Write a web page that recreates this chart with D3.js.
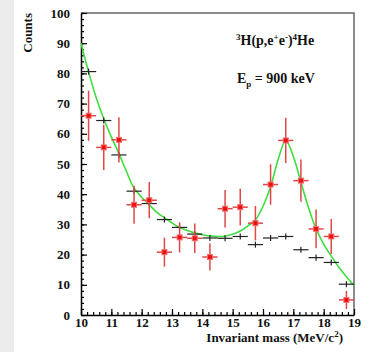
<!DOCTYPE html>
<html>
<head>
<meta charset="utf-8">
<script src="https://cdn.jsdelivr.net/npm/d3@7"></script>
<style>
  body { margin: 0; background: #fff; }
  svg text { font-family: "Liberation Serif", "Times New Roman", serif; font-weight: bold; }
</style>
</head>
<body>
<div id="chart"></div>
<script>
// bin centres (MeV/c^2)
const binCenters = [10.25, 10.75, 11.25, 11.75, 12.25, 12.75, 13.25, 13.75, 14.25,
                    14.75, 15.25, 15.75, 16.25, 16.75, 17.25, 17.75, 18.25, 18.75];
// measured counts (red) and their errors
const dataCounts = [66, 55.5, 58, 36.5, 38, 20.8, 25.7, 25.4, 19.2,
                    35.2, 35.7, 30.4, 43.2, 57.8, 44.5, 28.5, 26, 5];
const dataErrors = [8.3, 7.5, 7.5, 6.3, 6, 4.8, 5, 4.9, 4.5,
                    6.2, 6.1, 5.7, 6.7, 7.5, 7, 6.4, 5.8, 3];
// simulated background (black)
const bgCounts = [80.6, 64.4, 53, 41, 36.9, 31.6, 29, 26.8, 25.5,
                  25.4, 26, 23.3, 25.5, 26, 21.6, 19, 17.4, 10.2];
const bgErrors = [1, 1, 1, 1, 1, 1, 1, 1, 1, 1, 1, 1, 1, 1, 1, 1, 1, 1];
// fit curve
const fitX = [10, 10.25, 10.5, 10.75, 11, 11.25, 11.5, 11.75, 12, 12.25, 12.5, 12.75, 13,
              13.25, 13.5, 13.75, 14, 14.25, 14.5, 14.75, 15, 15.25, 15.5, 15.75, 16,
              16.25, 16.5, 16.75, 17, 17.25, 17.5, 17.75, 18, 18.25, 18.5, 18.75, 19];
const fitY = [90, 80.5, 72, 65, 59, 53.5, 47.5, 42, 39, 36.5, 34, 32.2, 30.5,
              29, 28, 27.2, 26.6, 26.2, 26, 26.1, 26.7, 27.8, 29.5, 31.5, 36,
              42.5, 51.5, 57.8, 52.5, 44, 35.5, 28.5, 23.5, 19.5, 15.8, 12.7, 9.8];
const xTicks = [10, 11, 12, 13, 14, 15, 16, 17, 18, 19];
const yTicks = [0, 10, 20, 30, 40, 50, 60, 70, 80, 90, 100];
const halfBin = 0.25;

const W = 377, H = 352;
const margin = { top: 13, right: 23, bottom: 37, left: 81 };

const svg = d3.select('#chart').append('svg')
  .attr('width', W).attr('height', H);

// grey strip on the left edge of the picture
svg.append('rect').attr('x', 0).attr('y', 0).attr('width', 14).attr('height', H).attr('fill', '#ececec');

const x = d3.scaleLinear().domain([10, 19]).range([margin.left, W - margin.right]);
const y = d3.scaleLinear().domain([0, 100]).range([H - margin.bottom, margin.top]);

// frame top/right
svg.append('path')
  .attr('d', `M${x(10)},${y(100)}H${x(19)}V${y(0)}`)
  .attr('fill', 'none').attr('stroke', '#666').attr('stroke-width', 1.5);

// minor ticks
svg.append('g')
  .attr('transform', `translate(0,${y(0)})`)
  .call(d3.axisBottom(x).tickValues(d3.range(10, 19.01, 0.2)).tickSize(-3).tickSizeOuter(0).tickFormat(''))
  .call(g => g.select('.domain').remove());
svg.append('g')
  .attr('transform', `translate(${x(10)},0)`)
  .call(d3.axisLeft(y).tickValues(d3.range(0, 100.01, 2)).tickSize(-3).tickSizeOuter(0).tickFormat(''))
  .call(g => g.select('.domain').remove());

// major axes
const xAxis = svg.append('g')
  .attr('transform', `translate(0,${y(0)})`)
  .call(d3.axisBottom(x).tickValues(xTicks).tickSize(-6).tickSizeOuter(0).tickPadding(0).tickFormat(d3.format('d')));
xAxis.selectAll('text').attr('y', 12).attr('dy', null).attr('font-size', 13).attr('fill', '#111');

const yAxis = svg.append('g')
  .attr('transform', `translate(${x(10)},0)`)
  .call(d3.axisLeft(y).tickValues(yTicks).tickSize(-6).tickSizeOuter(0).tickPadding(0).tickFormat(d3.format('d')));
yAxis.selectAll('text').attr('x', -11).attr('font-size', 13).attr('fill', '#111');

svg.selectAll('.domain').attr('stroke', '#000').attr('stroke-width', 1.5);
svg.selectAll('.tick line').attr('stroke', '#000').attr('stroke-width', 1.2);

// axis titles
svg.append('text')
  .attr('transform', `translate(32,${margin.top}) rotate(-90)`)
  .attr('text-anchor', 'end').attr('font-size', 13).attr('fill', '#111')
  .text('Counts');

const xt = svg.append('text')
  .attr('x', 343).attr('y', 342).attr('text-anchor', 'end')
  .attr('font-size', 13).attr('fill', '#111');
xt.append('tspan').text('Invariant mass (MeV/c');
xt.append('tspan').attr('font-size', 9).attr('dy', -5).text('2');
xt.append('tspan').attr('dy', 5).text(')');

// fit curve
const fitPts = fitX.map((v, i) => [v, fitY[i]]);
svg.append('path')
  .datum(fitPts)
  .attr('fill', 'none').attr('stroke', '#3fdd3f').attr('stroke-width', 1.6)
  .attr('d', d3.line().x(d => x(d[0])).y(d => y(d[1])).curve(d3.curveCatmullRom.alpha(0.5)));

// background crosses
const bg = binCenters.map((c, i) => ({ c, v: bgCounts[i], e: bgErrors[i] }));
const bgG = svg.append('g').attr('stroke', '#222').attr('stroke-width', 1.2);
bgG.selectAll('.bh').data(bg).join('line')
  .attr('x1', d => x(d.c - halfBin)).attr('x2', d => x(d.c + halfBin))
  .attr('y1', d => y(d.v)).attr('y2', d => y(d.v));
bgG.selectAll('.bv').data(bg).join('line')
  .attr('x1', d => x(d.c)).attr('x2', d => x(d.c))
  .attr('y1', d => y(d.v - d.e)).attr('y2', d => y(d.v + d.e));

// measured points
const pts = binCenters.map((c, i) => ({ c, v: dataCounts[i], e: dataErrors[i] }));
const dg = svg.append('g');
dg.selectAll('.eh').data(pts).join('line')
  .attr('stroke', '#e04848').attr('stroke-width', 1.5)
  .attr('x1', d => x(d.c - halfBin)).attr('x2', d => x(d.c + halfBin))
  .attr('y1', d => y(d.v)).attr('y2', d => y(d.v));
dg.selectAll('.ev').data(pts).join('line')
  .attr('stroke', '#e04848').attr('stroke-width', 1.5)
  .attr('x1', d => x(d.c)).attr('x2', d => x(d.c))
  .attr('y1', d => y(d.v - d.e)).attr('y2', d => y(d.v + d.e));
dg.selectAll('rect').data(pts).join('rect')
  .attr('x', d => x(d.c) - 2.5).attr('y', d => y(d.v) - 2.5)
  .attr('width', 5).attr('height', 5)
  .attr('fill', '#ee1111').attr('stroke', '#f07070').attr('stroke-width', 1);

// annotations
const t1 = svg.append('text').attr('x', 236).attr('y', 45).attr('font-size', 14).attr('fill', '#111');
t1.append('tspan').attr('font-size', 9).attr('dy', -5).text('3');
t1.append('tspan').attr('dy', 5).text('H(p,e');
t1.append('tspan').attr('font-size', 9).attr('dy', -5).text('+');
t1.append('tspan').attr('dy', 5).text('e');
t1.append('tspan').attr('font-size', 9).attr('dy', -5).text('-');
t1.append('tspan').attr('dy', 5).text(')');
t1.append('tspan').attr('font-size', 9).attr('dy', -5).text('4');
t1.append('tspan').attr('dy', 5).text('He');

const t2 = svg.append('text').attr('x', 237).attr('y', 83).attr('font-size', 14).attr('fill', '#111');
t2.append('tspan').text('E');
t2.append('tspan').attr('font-size', 9).attr('dy', 4).text('p');
t2.append('tspan').attr('dy', -4).text(' = 900 keV');
</script>
</body>
</html>
